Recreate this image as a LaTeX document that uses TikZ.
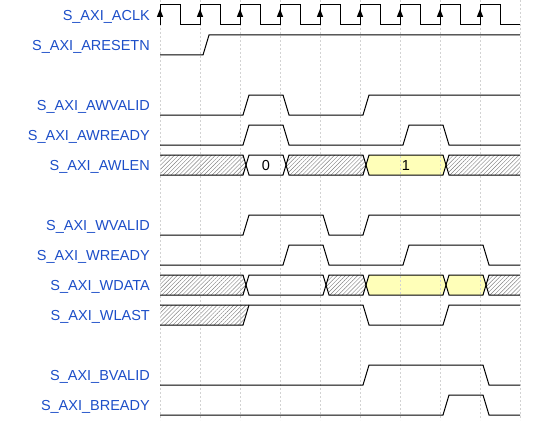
\documentclass[tikz,border=0pt]{standalone}
\usepackage{fontspec}
\setmainfont{Liberation Sans}
\usetikzlibrary{patterns.meta}
\definecolor{lblc}{RGB}{28,78,200}
\definecolor{busy}{RGB}{255,255,185}
\definecolor{gridc}{RGB}{210,210,210}
\begin{document}
\begin{tikzpicture}[x=1pt,y=-1pt,
  sig/.style={line width=1pt,black,line join=miter},
  hatch/.style={pattern={Lines[angle=45,distance=2.9pt,line width=0.45pt]},pattern color=gray},
  lbl/.style={text=lblc,anchor=base east,inner sep=0pt,font=\fontsize{14.5}{16}\selectfont},
  val/.style={text=black,anchor=base,inner sep=0pt,font=\fontsize{14.5}{16}\selectfont},
  gridline/.style={gridc,line width=0.8pt,dash pattern=on 2pt off 2pt},
  clkarrow/.style={fill=black}]
\useasboundingbox (0,0) rectangle (540,420);

% ---- bus fills ----
% AWLEN (155/165/175)
\fill[hatch] (160,155) -- (243,155) -- (246,165) -- (243,175) -- (160,175) -- cycle;
\fill[white] (246,165) -- (249,155) -- (283,155) -- (286,165) -- (283,175) -- (249,175) -- cycle;
\fill[hatch] (286,165) -- (289,155) -- (363,155) -- (366,165) -- (363,175) -- (289,175) -- cycle;
\fill[busy] (366,165) -- (369,155) -- (443,155) -- (446,165) -- (443,175) -- (369,175) -- cycle;
\fill[hatch] (520,155) -- (449,155) -- (446,165) -- (449,175) -- (520,175) -- cycle;
% WDATA (275/285/295)
\fill[hatch] (160,275) -- (243,275) -- (246,285) -- (243,295) -- (160,295) -- cycle;
\fill[white] (246,285) -- (249,275) -- (323,275) -- (326,285) -- (323,295) -- (249,295) -- cycle;
\fill[hatch] (326,285) -- (329,275) -- (363,275) -- (366,285) -- (363,295) -- (329,295) -- cycle;
\fill[busy] (366,285) -- (369,275) -- (443,275) -- (446,285) -- (443,295) -- (369,295) -- cycle;
\fill[busy] (446,285) -- (449,275) -- (483,275) -- (486,285) -- (483,295) -- (449,295) -- cycle;
\fill[hatch] (520,275) -- (489,275) -- (486,285) -- (489,295) -- (520,295) -- cycle;
% WLAST unknown part
\fill[hatch] (160,305) -- (249,305) -- (243,325) -- (160,325) -- cycle;

% ---- grid ----
\foreach \k in {0,...,9}
  \draw[gridline] ({160+40*\k},0) -- ({160+40*\k},420);

% ---- labels ----
\node[lbl] (l1) at (150,20.5) {S\_AXI\_ACLK};
\node[lbl] (l2) at (150,50.5) {S\_AXI\_ARESETN};
\node[lbl] (l3) at (150,110.5) {S\_AXI\_AWVALID};
\node[lbl] (l4) at (150,140.5) {S\_AXI\_AWREADY};
\node[lbl] (l5) at (150,170.5) {S\_AXI\_AWLEN};
\node[lbl] (l6) at (150,230.5) {S\_AXI\_WVALID};
\node[lbl] (l7) at (150,260.5) {S\_AXI\_WREADY};
\node[lbl] (l8) at (150,290.5) {S\_AXI\_WDATA};
\node[lbl] (l9) at (150,320.5) {S\_AXI\_WLAST};
\node[lbl] (l10) at (150,380.5) {S\_AXI\_BVALID};
\node[lbl] (l11) at (150,410.5) {S\_AXI\_BREADY};

% ---- clock ----
\draw[sig] (160,25) foreach \k in {0,...,8} { -- ({160+40*\k},5) -- ({180+40*\k},5) -- ({180+40*\k},25) -- ({200+40*\k},25) };
\foreach \k in {0,...,8}
  \fill[clkarrow] ({160+40*\k-3.2},17) -- ({160+40*\k},9) -- ({160+40*\k+3.2},17) -- cycle;

% ---- ARESETN ----
\draw[sig] (160,55) -- (203,55) -- (209,35) -- (520,35);
% ---- AWVALID (95/115) ----
\draw[sig] (160,115) -- (243,115) -- (249,95) -- (283,95) -- (289,115) -- (363,115) -- (369,95) -- (520,95);
% ---- AWREADY (125/145) ----
\draw[sig] (160,145) -- (243,145) -- (249,125) -- (283,125) -- (289,145) -- (403,145) -- (409,125) -- (443,125) -- (449,145) -- (520,145);
% ---- AWLEN outlines ----
\draw[sig] (160,155) -- (243,155) -- (249,175) -- (283,175) -- (289,155) -- (363,155) -- (369,175) -- (443,175) -- (449,155) -- (520,155);
\draw[sig] (160,175) -- (243,175) -- (249,155) -- (283,155) -- (289,175) -- (363,175) -- (369,155) -- (443,155) -- (449,175) -- (520,175);
\node[val] (v0) at (266,170.2) {0};
\node[val] (v1) at (406,170.2) {1};
% ---- WVALID (215/235) ----
\draw[sig] (160,235) -- (243,235) -- (249,215) -- (323,215) -- (329,235) -- (363,235) -- (369,215) -- (520,215);
% ---- WREADY (245/265) ----
\draw[sig] (160,265) -- (283,265) -- (289,245) -- (323,245) -- (329,265) -- (403,265) -- (409,245) -- (483,245) -- (489,265) -- (520,265);
% ---- WDATA outlines ----
\draw[sig] (160,275) -- (243,275) -- (249,295) -- (323,295) -- (329,275) -- (363,275) -- (369,295) -- (443,295) -- (449,275) -- (483,275) -- (489,295) -- (520,295);
\draw[sig] (160,295) -- (243,295) -- (249,275) -- (323,275) -- (329,295) -- (363,295) -- (369,275) -- (443,275) -- (449,295) -- (483,295) -- (489,275) -- (520,275);
% ---- WLAST (305/325) ----
\draw[sig] (160,325) -- (243,325) -- (249,305);
\draw[sig] (160,305) -- (363,305) -- (369,325) -- (443,325) -- (449,305) -- (520,305);
% ---- BVALID (365/385) ----
\draw[sig] (160,385) -- (363,385) -- (369,365) -- (483,365) -- (489,385) -- (520,385);
% ---- BREADY (395/415) ----
\draw[sig] (160,415) -- (443,415) -- (449,395) -- (483,395) -- (489,415) -- (520,415);
\end{tikzpicture}
\end{document}
